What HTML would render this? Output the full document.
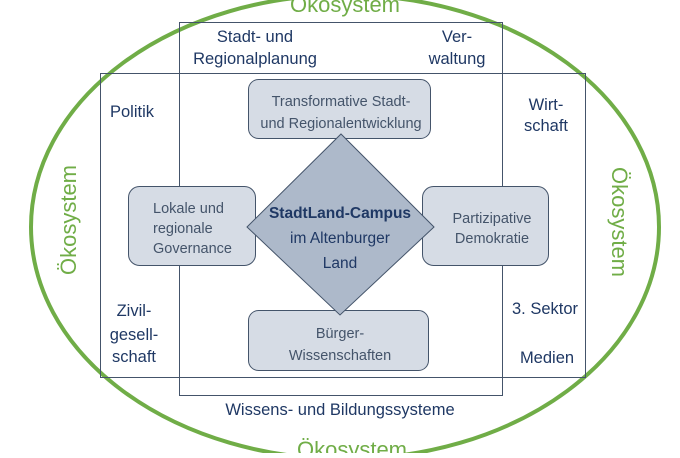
<!DOCTYPE html>
<html><head><meta charset="utf-8"><style>
body{margin:0;background:#fff}
svg text{font-family:"Liberation Sans",sans-serif}
</style></head><body>
<svg width="680" height="453" viewBox="0 0 680 453" xmlns="http://www.w3.org/2000/svg">
<ellipse cx="345" cy="227" rx="314" ry="232" fill="none" stroke="#70ad47" stroke-width="4"/>
<rect x="179.5" y="22.5" width="323" height="373" fill="none" stroke="#44546a" stroke-width="1"/>
<rect x="100.5" y="73.5" width="485" height="304" fill="none" stroke="#44546a" stroke-width="1"/>
<g fill="#d6dce5" stroke="#44546a" stroke-width="1">
<rect x="248.5" y="79.5" width="182" height="59" rx="10"/>
<rect x="128.5" y="186.5" width="127" height="79" rx="11"/>
<rect x="422.5" y="186.5" width="126" height="79" rx="11"/>
<rect x="248.5" y="310.5" width="180" height="60" rx="10"/>
</g>
<polygon points="341,134 434,227 340,315 247,227" fill="#adb9ca" stroke="#44546a" stroke-width="1"/>
<g fill="#70ad47" font-size="22" text-anchor="middle">
<text x="345" y="12">Ökosystem</text>
<text x="352" y="457">Ökosystem</text>
<text transform="translate(76,220) rotate(-90)">Ökosystem</text>
<text transform="translate(612,222) rotate(90)">Ökosystem</text>
</g>
<g fill="#1f3864" font-size="16.5" text-anchor="middle">
<text x="255" y="42">Stadt- und</text>
<text x="255" y="64">Regionalplanung</text>
<text x="457" y="42">Ver-</text>
<text x="457" y="64">waltung</text>
<text x="132" y="117">Politik</text>
<text x="546" y="110">Wirt-</text>
<text x="546" y="131">schaft</text>
<text x="134" y="316">Zivil-</text>
<text x="134" y="340">gesell-</text>
<text x="134" y="362">schaft</text>
<text x="545" y="314">3. Sektor</text>
<text x="547" y="363">Medien</text>
<text x="340" y="415">Wissens- und Bildungssysteme</text>
</g>
<g fill="#44546a" font-size="14.5" text-anchor="middle">
<text x="341" y="106">Transformative Stadt-</text>
<text x="341" y="128">und Regionalentwicklung</text>
<text x="153" y="213" text-anchor="start">Lokale und</text>
<text x="153" y="233" text-anchor="start">regionale</text>
<text x="153" y="253" text-anchor="start">Governance</text>
<text x="492" y="223">Partizipative</text>
<text x="492" y="243">Demokratie</text>
<text x="340" y="338">Bürger-</text>
<text x="340" y="360">Wissenschaften</text>
</g>
<g fill="#1f3864" font-size="15.5" text-anchor="middle">
<text x="340" y="218" font-weight="bold">StadtLand-Campus</text>
<text x="340" y="243">im Altenburger</text>
<text x="340" y="268">Land</text>
</g>
</svg>
</body></html>
